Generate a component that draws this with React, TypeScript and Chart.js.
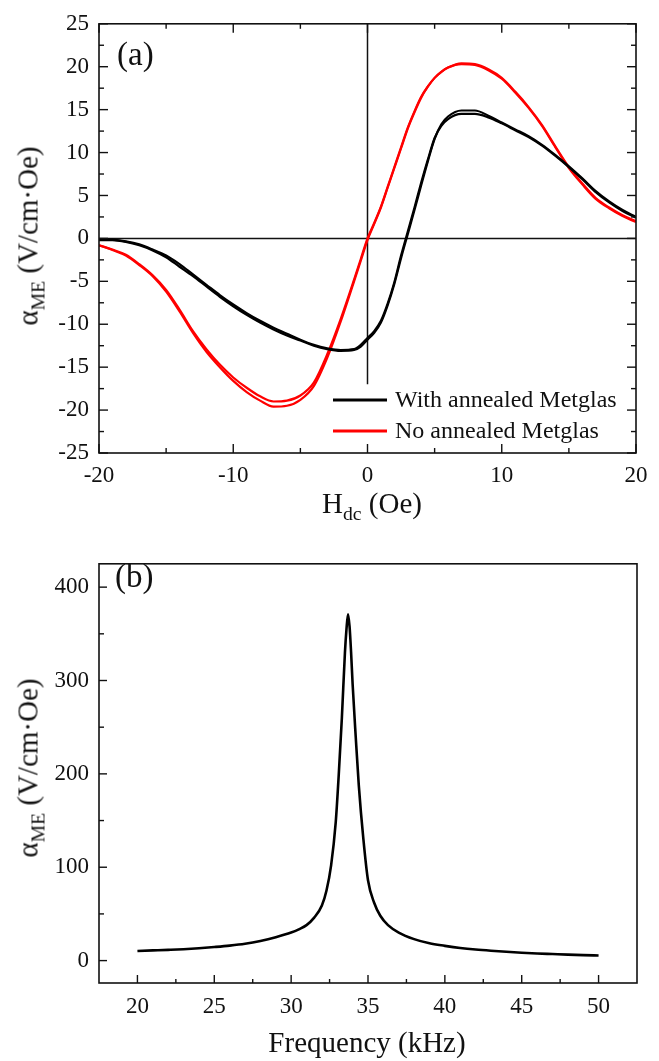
import React, { useEffect, useRef } from 'react';
import { Chart, registerables } from 'chart.js';
Chart.register(...registerables);

const FONT = "'Liberation Serif', 'Times New Roman', Times, serif";
const INK = '#111111';

// ---------- Panel (a) ----------
const H_A = [-20, -19, -18, -17, -16, -15, -14, -13, -12, -11, -10, -9, -8, -7, -6, -5, -4, -3, -2, -1, -0.5,
  0, 0.5, 1, 1.5, 2, 2.5, 3, 3.5, 4, 4.5, 5, 5.5, 6, 7, 8, 9, 10, 11, 12, 13, 14, 15, 16, 17, 18, 19, 20];

const WITH_FWD = [-0.2, -0.2, -0.4, -0.8, -1.4, -2.2, -3.3, -4.4, -5.6, -6.8, -7.9, -8.9, -9.8, -10.6, -11.3, -11.9, -12.5, -12.9, -13.1, -13.0, -12.6,
  -11.8, -11.0, -9.8, -7.8, -5.3, -2.3, 0.5, 3.3, 6.2, 9.0, 11.6, 13.3, 14.2, 14.9, 14.9, 14.3, 13.5, 12.7, 11.9, 10.9, 9.7, 8.4, 7.0, 5.5, 4.3, 3.3, 2.5];
const WITH_REV = [-0.1, -0.15, -0.35, -0.7, -1.3, -2.0, -3.0, -4.2, -5.4, -6.6, -7.7, -8.7, -9.6, -10.4, -11.1, -11.8, -12.4, -12.8, -13.0, -12.9, -12.4,
  -11.6, -10.8, -9.6, -7.6, -5.1, -2.0, 0.8, 3.6, 6.5, 9.2, 11.7, 13.1, 13.9, 14.5, 14.5, 14.1, 13.4, 12.6, 11.8, 10.8, 9.6, 8.3, 6.9, 5.4, 4.2, 3.2, 2.4];
const NO_FWD = [-0.8, -1.3, -1.9, -3.0, -4.3, -6.0, -8.3, -10.8, -12.9, -14.7, -16.2, -17.4, -18.4, -19.0, -18.9, -18.3, -16.8, -13.5, -9.4, -4.8, -2.4,
  0, 1.8, 3.7, 6.0, 8.3, 10.6, 12.9, 14.8, 16.5, 17.7, 18.7, 19.4, 19.9, 20.4, 20.3, 19.7, 18.7, 17.1, 15.3, 13.2, 10.7, 8.3, 6.4, 4.7, 3.6, 2.7, 2.0];
const NO_REV = [-0.8, -1.35, -2.0, -3.1, -4.4, -6.2, -8.5, -11.0, -13.2, -15.0, -16.6, -17.9, -18.9, -19.6, -19.5, -18.8, -17.2, -13.9, -9.7, -5.0, -2.6,
  -0.2, 1.7, 3.6, 5.9, 8.2, 10.5, 12.8, 14.7, 16.4, 17.7, 18.7, 19.4, 19.9, 20.3, 20.2, 19.6, 18.6, 17.0, 15.2, 13.1, 10.6, 8.2, 6.3, 4.6, 3.5, 2.6, 1.9];

const LABEL_WITH = 'With annealed Metglas';
const LABEL_NO = 'No annealed Metglas';

const X_TICKS_A = [-20, -10, 0, 10, 20];
const X_MINOR_A = [-15, -5, 5, 15];
const Y_TICKS_A = [-25, -20, -15, -10, -5, 0, 5, 10, 15, 20, 25];
const Y_MINOR_A = [-22.5, -17.5, -12.5, -7.5, -2.5, 2.5, 7.5, 12.5, 17.5, 22.5];
const ZERO_V_A = [{ x: 0, y: 25 }, { x: 0, y: -17 }];
const ZERO_H_A = [{ x: -20, y: 0 }, { x: 20, y: 0 }];

// ---------- Panel (b) ----------
const FREQ = [20, 21, 22, 23, 24, 25, 26, 27, 28, 29, 30, 30.5, 31, 31.5, 32, 32.3, 32.6, 32.9, 33.1, 33.3, 33.5, 33.6, 33.7,
  33.8, 33.9, 34.0, 34.2, 34.4, 34.7, 35.0, 35.4, 35.8, 36.3, 37, 38, 39, 40, 41, 42, 43, 44, 45, 46, 47, 48, 49, 50];
const ALPHA_B = [10.3, 10.9, 11.5, 12.2, 13.2, 14.5, 16.0, 18.0, 21.0, 25.0, 30.0, 33.5, 38.0, 46.0, 59, 75, 102, 148, 200, 260, 330, 355, 371,
  358, 330, 296, 240, 188, 130, 86, 62, 48, 38, 30, 23, 18.5, 15.8, 13.5, 11.8, 10.5, 9.4, 8.4, 7.6, 7.0, 6.4, 5.9, 5.5];

const X_TICKS_B = [20, 25, 30, 35, 40, 45, 50];
const X_MINOR_B = [22.5, 27.5, 32.5, 37.5, 42.5, 47.5];
const Y_TICKS_B = [0, 100, 200, 300, 400];
const Y_MINOR_B = [50, 150, 250, 350];

const toPts = (xs: number[], ys: number[]) => xs.map((x, i) => ({ x, y: ys[i] }));

const framePlugin = {
  id: 'frame',
  afterDatasetsDraw(chart: any, _args: any, opts: any) {
    const { ctx, chartArea: a, scales } = chart;
    ctx.save();
    ctx.strokeStyle = INK;
    ctx.lineWidth = 1.6;
    ctx.strokeRect(a.left, a.top, a.right - a.left, a.bottom - a.top);
    ctx.lineWidth = 1.4;
    for (const t of opts.ticks || []) {
      const scale = scales[t.axis];
      for (const v of t.values) {
        const p = scale.getPixelForValue(v);
        for (const side of t.sides) {
          ctx.beginPath();
          if (side === 'bottom') { ctx.moveTo(p, a.bottom); ctx.lineTo(p, a.bottom - t.len); }
          if (side === 'top') { ctx.moveTo(p, a.top); ctx.lineTo(p, a.top + t.len); }
          if (side === 'left') { ctx.moveTo(a.left, p); ctx.lineTo(a.left + t.len, p); }
          if (side === 'right') { ctx.moveTo(a.right, p); ctx.lineTo(a.right - t.len, p); }
          ctx.stroke();
        }
      }
    }
    if (opts.legend) {
      const L = opts.legend;
      const items = chart.data.datasets.filter((d: any) => d.label);
      items.forEach((d: any, i: number) => {
        const y = L.y0 + i * L.dy;
        ctx.strokeStyle = d.borderColor;
        ctx.lineWidth = 3;
        ctx.beginPath();
        ctx.moveTo(L.x0, y);
        ctx.lineTo(L.x1, y);
        ctx.stroke();
        ctx.fillStyle = INK;
        ctx.font = `${L.size}px ${FONT}`;
        ctx.textBaseline = 'middle';
        ctx.textAlign = 'left';
        ctx.fillText(d.label, L.tx, y + 1);
      });
    }
    ctx.restore();
  },
};

const tickFont = { family: FONT, size: 23 };

function makeChartA(canvas: HTMLCanvasElement) {
  const line = (data: any, color: string, label = '') => ({
    label, data, borderColor: color, backgroundColor: color, borderWidth: 2.2,
    pointRadius: 0, showLine: true, fill: false, cubicInterpolationMode: 'monotone' as const,
  });
  return new Chart(canvas, {
    type: 'scatter',
    data: {
      datasets: [
        line(toPts(H_A, WITH_FWD), '#000000', LABEL_WITH),
        line(toPts(H_A, WITH_REV), '#000000'),
        line(toPts(H_A, NO_FWD), '#ff0000', LABEL_NO),
        line(toPts(H_A, NO_REV), '#ff0000'),
        { data: ZERO_V_A, showLine: true, borderColor: INK, borderWidth: 1.5, pointRadius: 0 },
        { data: ZERO_H_A, showLine: true, borderColor: INK, borderWidth: 1.5, pointRadius: 0 },
      ],
    },
    options: {
      animation: false,
      responsive: false,
      layout: { padding: { left: 0, right: 23, top: 20, bottom: 0 } },
      plugins: {
        legend: { display: false },
        tooltip: { enabled: false },
        frame: {
          ticks: [
            { axis: 'x', values: X_TICKS_A, len: 9, sides: ['bottom', 'top'] },
            { axis: 'x', values: X_MINOR_A, len: 5, sides: ['bottom', 'top'] },
            { axis: 'y', values: Y_TICKS_A, len: 9, sides: ['left', 'right'] },
            { axis: 'y', values: Y_MINOR_A, len: 5, sides: ['left', 'right'] },
          ],
          legend: { x0: 333, x1: 387, tx: 395, y0: 400, dy: 31, size: 24 },
        },
      } as any,
      scales: {
        x: {
          type: 'linear', min: -20, max: 20,
          afterBuildTicks: (s: any) => { s.ticks = X_TICKS_A.map((value) => ({ value })); },
          afterFit: (s: any) => { s.height = 87; },
          grid: { display: false, drawTicks: false },
          border: { display: false },
          ticks: { font: tickFont, color: INK, padding: 9, maxRotation: 0 },
        },
        y: {
          type: 'linear', min: -25, max: 25,
          afterBuildTicks: (s: any) => { s.ticks = Y_TICKS_A.map((value) => ({ value })); },
          afterFit: (s: any) => { s.width = 99; },
          grid: { display: false, drawTicks: false },
          border: { display: false },
          ticks: { font: tickFont, color: INK, padding: 10 },
        },
      },
    },
    plugins: [framePlugin],
  });
}

function makeChartB(canvas: HTMLCanvasElement) {
  return new Chart(canvas, {
    type: 'scatter',
    data: {
      datasets: [
        {
          data: toPts(FREQ, ALPHA_B), showLine: true, borderColor: '#000000', borderWidth: 2.6,
          pointRadius: 0, fill: false, cubicInterpolationMode: 'monotone',
        },
      ],
    },
    options: {
      animation: false,
      responsive: false,
      layout: { padding: { left: 0, right: 22, top: 9, bottom: 0 } },
      plugins: {
        legend: { display: false },
        tooltip: { enabled: false },
        frame: {
          ticks: [
            { axis: 'x', values: X_TICKS_B, len: 8, sides: ['bottom'] },
            { axis: 'x', values: X_MINOR_B, len: 4, sides: ['bottom'] },
            { axis: 'y', values: Y_TICKS_B, len: 8, sides: ['left'] },
            { axis: 'y', values: Y_MINOR_B, len: 5, sides: ['left'] },
          ],
        },
      } as any,
      scales: {
        x: {
          type: 'linear', min: 17.5, max: 52.5,
          afterBuildTicks: (s: any) => { s.ticks = X_TICKS_B.map((value) => ({ value })); },
          afterFit: (s: any) => { s.height = 78; },
          grid: { display: false, drawTicks: false },
          border: { display: false },
          ticks: { font: tickFont, color: INK, padding: 10, maxRotation: 0 },
        },
        y: {
          type: 'linear', min: -24, max: 425,
          afterBuildTicks: (s: any) => { s.ticks = Y_TICKS_B.map((value) => ({ value })); },
          afterFit: (s: any) => { s.width = 99; },
          grid: { display: false, drawTicks: false },
          border: { display: false },
          ticks: { font: tickFont, color: INK, padding: 10 },
        },
      },
    },
    plugins: [framePlugin],
  });
}

const abs = (extra: React.CSSProperties): React.CSSProperties => ({
  position: 'absolute', fontFamily: FONT, color: INK, whiteSpace: 'nowrap', lineHeight: 1, ...extra,
});
const subStyle: React.CSSProperties = { fontSize: '0.68em', verticalAlign: '-0.38em', lineHeight: 0 };

function YTitle({ cy }: { cy: number }) {
  return (
    <div style={abs({ left: 28, top: cy, fontSize: 29, transform: 'translate(-50%, -50%) rotate(-90deg)' })}>
      α<sub style={subStyle}>ME</sub> (V/cm·Oe)
    </div>
  );
}

export default function App() {
  const refA = useRef<HTMLCanvasElement>(null);
  const refB = useRef<HTMLCanvasElement>(null);
  useEffect(() => {
    const a = makeChartA(refA.current!);
    const b = makeChartB(refB.current!);
    return () => { a.destroy(); b.destroy(); };
  }, []);
  return (
    <div style={{ position: 'fixed', left: 0, top: 0, width: 659, height: 1061, background: '#fff', overflow: 'hidden' }}>
      <canvas ref={refA} width={659} height={540} style={{ position: 'absolute', left: 0, top: 0 }} />
      <canvas ref={refB} width={659} height={521} style={{ position: 'absolute', left: 0, top: 540 }} />
      <div style={abs({ left: 117, top: 54, fontSize: 33, transform: 'translateY(-50%)' })}>(a)</div>
      <div style={abs({ left: 115, top: 576, fontSize: 33, transform: 'translateY(-50%)' })}>(b)</div>
      <YTitle cy={236} />
      <YTitle cy={768} />
      <div style={abs({ left: 372, top: 503, fontSize: 29, transform: 'translate(-50%, -50%)' })}>
        H<sub style={subStyle}>dc</sub> (Oe)
      </div>
      <div style={abs({ left: 367, top: 1042, fontSize: 29, transform: 'translate(-50%, -50%)' })}>
        Frequency (kHz)
      </div>
    </div>
  );
}
